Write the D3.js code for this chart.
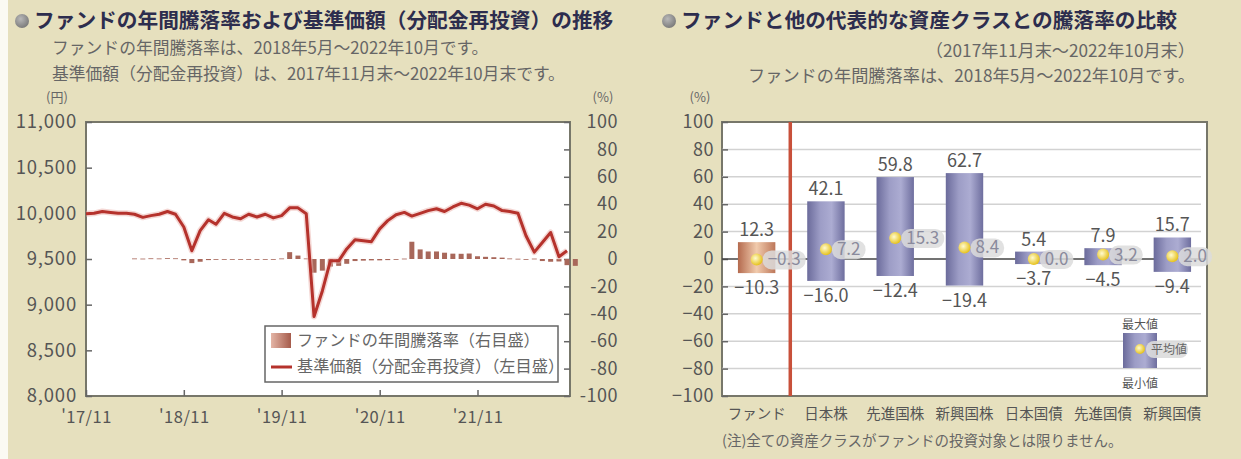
<!DOCTYPE html>
<html lang="ja">
<head>
<meta charset="utf-8">
<title>ファンドの騰落率</title>
<script src="https://d3js.org/d3.v7.min.js"></script>
<style>
	body { margin: 0; background: #e6e0be; }
	svg text { font-family: "Noto Sans CJK JP", sans-serif; }
</style>
</head>
<body>
<script>

// ---- data ----
// 基準価額（分配金再投資）月末値 2017/11 - 2022/10
var navStart = new Date(2017, 10, 1);
var navValues = [
	9995, 10000, 10020, 10010, 10000, 10000, 9990, 9956, 9975, 9990, 10020, 9990,
	9850, 9590, 9810, 9930, 9880, 10000, 9960, 9940, 9990, 9960, 9990, 9950,
	9975, 10060, 10060, 9995, 8870, 9150, 9480, 9480, 9610, 9710, 9700, 9690,
	9830, 9920, 9985, 10010, 9970, 10000, 10030, 10050, 10020, 10070, 10110, 10090,
	10050, 10100, 10080, 10030, 10020, 10000, 9755, 9575, 9680, 9790, 9525, 9590
];
// ファンドの年間騰落率（%） 2018/5 - 2022/10
var returnStart = new Date(2018, 4, 1);
var returnValues = [
	0.4, 0.3, 0.5, 0.4, 0.6, 0.5,
	-1.0, -3.0, -2.0, -0.8, -0.6, -0.4, -0.5, -0.3, -0.4, -0.3, -0.4, -0.3,
	0.4, 5.0, 2.5, 0.4, -10.0, -8.5, -5.5, -5.0, -3.5, -1.5, -1.2, -1.0,
	-1.0, -0.8, -0.6, 0.3, 12.6, 7.0, 5.5, 5.5, 4.6, 3.9, 3.8, 4.0,
	2.0, 1.6, 1.3, 1.0, 0.4, 0.2, 0.0, 0.3, -1.5, -2.0, -1.8, -4.5, -5.0
];
var xTickDates = [new Date(2017, 10, 1), new Date(2018, 10, 1), new Date(2019, 10, 1), new Date(2020, 10, 1), new Date(2021, 10, 1)];
var xTickLabels = ["'17/11", "'18/11", "'19/11", "'20/11", "'21/11"];
var navTicks = [8000, 8500, 9000, 9500, 10000, 10500, 11000];
var pctTicks = [-100, -80, -60, -40, -20, 0, 20, 40, 60, 80, 100];

// 資産クラス比較
var assetClasses = ["ファンド", "日本株", "先進国株", "新興国株", "日本国債", "先進国債", "新興国債"];
var maxValues = [12.3, 42.1, 59.8, 62.7, 5.4, 7.9, 15.7];
var minValues = [-10.3, -16.0, -12.4, -19.4, -3.7, -4.5, -9.4];
var avgValues = [-0.3, 7.2, 15.3, 8.4, 0.0, 3.2, 2.0];

// ---- svg ----
var w = 1241, h = 459;
var svg = d3.select("body").append("svg").attr("width", w).attr("height", h);

var defs = svg.append("defs");
function hGrad(id, stops) {
	var g = defs.append("linearGradient").attr("id", id).attr("x1", "0").attr("x2", "1").attr("y1", "0").attr("y2", "0");
	stops.forEach(function (s) { g.append("stop").attr("offset", s[0]).attr("stop-color", s[1]); });
}
hGrad("barBlue", [["0%", "#6b6b9b"], ["35%", "#9d9dc6"], ["65%", "#acacd2"], ["100%", "#6e6e9e"]]);
hGrad("barFund", [["0%", "#b46a4e"], ["50%", "#f1cbad"], ["100%", "#bd775a"]]);
hGrad("retGrad", [["0%", "#e4b5a6"], ["100%", "#a55b4b"]]);
var dg = defs.append("radialGradient").attr("id", "dot").attr("cx", "40%").attr("cy", "40%").attr("r", "60%");
dg.append("stop").attr("offset", "0%").attr("stop-color", "#fffbd0");
dg.append("stop").attr("offset", "100%").attr("stop-color", "#e6c21e");
var bg = defs.append("radialGradient").attr("id", "bullet").attr("cx", "40%").attr("cy", "35%").attr("r", "65%");
bg.append("stop").attr("offset", "0%").attr("stop-color", "#b8b8b8");
bg.append("stop").attr("offset", "100%").attr("stop-color", "#7c7c7c");

// white strip on the left edge
svg.append("rect").attr("x", 0).attr("y", 0).attr("width", 8).attr("height", h).attr("fill", "#fbfaf3");

// ---- titles ----
function title(x, txt) {
	svg.append("circle").attr("cx", x).attr("cy", 21).attr("r", 7).attr("fill", "url(#bullet)");
	svg.append("text").attr("x", x + 12).attr("y", 28).attr("font-size", 20.7).attr("font-weight", "bold")
		.attr("fill", "#2d2d4e").text(txt);
}
title(22, "ファンドの年間騰落率および基準価額（分配金再投資）の推移");
title(669, "ファンドと他の代表的な資産クラスとの騰落率の比較");

function note(x, y, txt, anchor, size) {
	return svg.append("text").attr("x", x).attr("y", y).attr("font-size", size || 16.8)
		.attr("text-anchor", anchor || "start").attr("fill", "#666").text(txt);
}
note(52, 54, "ファンドの年間騰落率は、2018年5月～2022年10月です。");
note(52, 80, "基準価額（分配金再投資）は、2017年11月末～2022年10月末です。");
note(1195, 57, "（2017年11月末～2022年10月末）", "end", 17.2);
note(1195, 82, "ファンドの年間騰落率は、2018年5月～2022年10月です。", "end", 17.2);
note(57, 102, "(円)", "middle", 13);
note(603, 102, "(%)", "middle", 13);
note(700, 102, "(%)", "middle", 13);

// ---- left chart ----
var L = { left: 86, right: 570, top: 122, bottom: 396 };
var navDates = navValues.map(function (d, i) { return d3.timeMonth.offset(navStart, i); });
var retDates = returnValues.map(function (d, i) { return d3.timeMonth.offset(returnStart, i); });

var xScale = d3.scaleTime().domain([navStart, navDates[navDates.length - 1]]).range([L.left, 567]);
var yNav = d3.scaleLinear().domain([8000, 11000]).range([L.bottom, L.top]);
var yPct = d3.scaleLinear().domain([-100, 100]).range([L.bottom, L.top]);

svg.append("rect").attr("x", L.left).attr("y", L.top).attr("width", L.right - L.left).attr("height", L.bottom - L.top)
	.attr("fill", "#fff").attr("stroke", "#77776a").attr("stroke-width", 2);

var leftAxis = svg.append("g").attr("class", "axis").attr("transform", "translate(" + L.left + ",0)")
	.call(d3.axisLeft(yNav).tickValues(navTicks).tickSize(-6).tickPadding(9).tickFormat(d3.format(",")));
var rightAxis = svg.append("g").attr("class", "axis").attr("transform", "translate(" + L.right + ",0)")
	.call(d3.axisRight(yPct).tickValues(pctTicks).tickSize(-6).tickPadding(48).tickFormat(function (d) { return d; }));
rightAxis.selectAll("text").attr("text-anchor", "end");
var bottomAxis = svg.append("g").attr("class", "axis").attr("transform", "translate(0," + L.bottom + ")")
	.call(d3.axisBottom(xScale).tickValues(xTickDates).tickSize(-6).tickPadding(15)
		.tickFormat(function (d, i) { return xTickLabels[i]; }));
svg.selectAll(".axis path").remove();
svg.selectAll(".axis line").attr("stroke", "#666").attr("stroke-width", 1.5);
leftAxis.selectAll("text").attr("font-size", 18.5).attr("letter-spacing", 0.8).attr("fill", "#555");
rightAxis.selectAll("text").attr("font-size", 18).attr("letter-spacing", 0.5).attr("fill", "#555");
bottomAxis.selectAll("text").attr("font-size", 16.5).attr("letter-spacing", 0.5).attr("fill", "#555");

// return bars
svg.append("g").selectAll("rect").data(returnValues).enter().append("rect")
	.attr("x", function (d, i) { return xScale(retDates[i]) - 2.5; })
	.attr("y", function (d) { return yPct(Math.max(d, 0)); })
	.attr("width", 5)
	.attr("height", function (d) { return Math.max(Math.abs(yPct(d) - yPct(0)), 0.8); })
	.attr("fill", "#a8675a");

// NAV line
var line = d3.line().x(function (d, i) { return xScale(navDates[i]); }).y(function (d) { return yNav(d); });
svg.append("path").datum(navValues).attr("d", line).attr("fill", "none")
	.attr("stroke", "#eab0aa").attr("stroke-width", 6).attr("opacity", 0.5).attr("stroke-linejoin", "round");
svg.append("path").datum(navValues).attr("d", line).attr("fill", "none")
	.attr("stroke", "#b5322c").attr("stroke-width", 3).attr("stroke-linejoin", "round");

// legend
var lg = svg.append("g");
lg.append("rect").attr("x", 265).attr("y", 326).attr("width", 293).attr("height", 56)
	.attr("fill", "#fff").attr("stroke", "#666").attr("stroke-width", 1.5);
lg.append("rect").attr("x", 271).attr("y", 333).attr("width", 20).attr("height", 15).attr("fill", "url(#retGrad)");
lg.append("line").attr("x1", 271).attr("x2", 292).attr("y1", 367).attr("y2", 367).attr("stroke", "#b5322c").attr("stroke-width", 3);
lg.append("text").attr("x", 297).attr("y", 346).attr("font-size", 16.2).attr("fill", "#666").text("ファンドの年間騰落率（右目盛）");
lg.append("text").attr("x", 297).attr("y", 372).attr("font-size", 16.2).attr("fill", "#666").text("基準価額（分配金再投資）（左目盛）");

// ---- right chart ----
var R = { left: 722, right: 1207, top: 122, bottom: 396 };
var xBand = d3.scaleBand().domain(assetClasses).range([R.left, R.right]).paddingInner(0.46).paddingOuter(0.23);
var yR = d3.scaleLinear().domain([-100, 100]).range([R.bottom, R.top]);

svg.append("rect").attr("x", R.left).attr("y", R.top).attr("width", R.right - R.left).attr("height", R.bottom - R.top)
	.attr("fill", "#fff").attr("stroke", "#77776a").attr("stroke-width", 2);

// grid
svg.append("g").selectAll("line").data(pctTicks.filter(function (d) { return d !== 0 && Math.abs(d) !== 100; })).enter()
	.append("line").attr("x1", R.left).attr("x2", R.right - 6)
	.attr("y1", function (d) { return yR(d); }).attr("y2", function (d) { return yR(d); })
	.attr("stroke", "#d2d2d2").attr("stroke-width", 1.5);

var rAxis = svg.append("g").attr("class", "axis2").attr("transform", "translate(" + R.left + ",0)")
	.call(d3.axisLeft(yR).tickValues(pctTicks).tickSize(-6).tickPadding(8));
rAxis.select("path").remove();
rAxis.selectAll("line").attr("stroke", "#666").attr("stroke-width", 1.5);
rAxis.selectAll("text").attr("font-size", 18).attr("letter-spacing", 0.5).attr("fill", "#555");

// zero line
svg.append("line").attr("x1", R.left).attr("x2", R.right).attr("y1", yR(0)).attr("y2", yR(0))
	.attr("stroke", "#444").attr("stroke-width", 1.5);

// red divider between fund and asset classes
svg.append("line").attr("x1", xBand.step() + R.left - 1).attr("x2", xBand.step() + R.left - 1)
	.attr("y1", R.top).attr("y2", R.bottom).attr("stroke", "#c8503a").attr("stroke-width", 3.5);

var cls = svg.append("g").selectAll("g").data(assetClasses).enter().append("g");
cls.append("rect")
	.attr("x", function (d) { return xBand(d); })
	.attr("width", xBand.bandwidth())
	.attr("y", function (d, i) { return yR(maxValues[i]); })
	.attr("height", function (d, i) { return yR(minValues[i]) - yR(maxValues[i]); })
	.attr("fill", function (d, i) { return i === 0 ? "url(#barFund)" : "url(#barBlue)"; });

function cx(d) { return xBand(d) + xBand.bandwidth() / 2; }
cls.append("text").attr("x", cx).attr("y", function (d, i) { return yR(maxValues[i]) - 6; })
	.attr("text-anchor", "middle").attr("font-size", 18).attr("fill", "#555")
	.text(function (d, i) { return maxValues[i].toFixed(1); });
cls.append("text").attr("x", cx).attr("y", function (d, i) { return yR(minValues[i]) + 21; })
	.attr("text-anchor", "middle").attr("font-size", 18).attr("fill", "#555")
	.text(function (d, i) { return "−" + Math.abs(minValues[i]).toFixed(1); });

// average bubble
cls.each(function (d, i) {
	var g = d3.select(this);
	var x0 = cx(d), y0 = yR(avgValues[i]);
	var bub = g.append("rect").attr("y", y0 - 9).attr("height", 19).attr("rx", 9)
		.attr("fill", "#dcdcdc").attr("opacity", 0.85);
	var t = g.append("text").attr("x", x0 + 11).attr("y", y0 + 6).attr("font-size", 17)
		.attr("fill", "#8a8a9c").text(avgValues[i] < 0 ? "−" + Math.abs(avgValues[i]).toFixed(1) : avgValues[i].toFixed(1));
	var tw = t.node().getComputedTextLength();
	bub.attr("x", x0 + 6).attr("width", tw + 10);
	g.append("circle").attr("cx", x0).attr("cy", y0).attr("r", 6).attr("fill", "url(#dot)");
});

// category labels
svg.append("g").selectAll("text").data(assetClasses).enter().append("text")
	.attr("x", cx).attr("y", 419).attr("text-anchor", "middle").attr("font-size", 14.5).attr("fill", "#555")
	.text(function (d) { return d; });
note(722, 446, "(注)全ての資産クラスがファンドの投資対象とは限りません。", "start", 14.5);

// small legend
var rl = svg.append("g");
rl.append("rect").attr("x", 1123).attr("y", 333).attr("width", 34).attr("height", 35).attr("fill", "url(#barBlue)");
rl.append("rect").attr("x", 1146).attr("y", 341).attr("width", 42).attr("height", 17).attr("rx", 8).attr("fill", "#dcdcdc").attr("opacity", 0.9);
rl.append("circle").attr("cx", 1140).attr("cy", 349).attr("r", 5).attr("fill", "url(#dot)");
rl.append("text").attr("x", 1151).attr("y", 354).attr("font-size", 12).attr("fill", "#666").text("平均値");
rl.append("text").attr("x", 1140).attr("y", 329).attr("font-size", 12).attr("text-anchor", "middle").attr("fill", "#555").text("最大値");
rl.append("text").attr("x", 1140).attr("y", 388).attr("font-size", 12).attr("text-anchor", "middle").attr("fill", "#555").text("最小値");

</script>
</body>
</html>
